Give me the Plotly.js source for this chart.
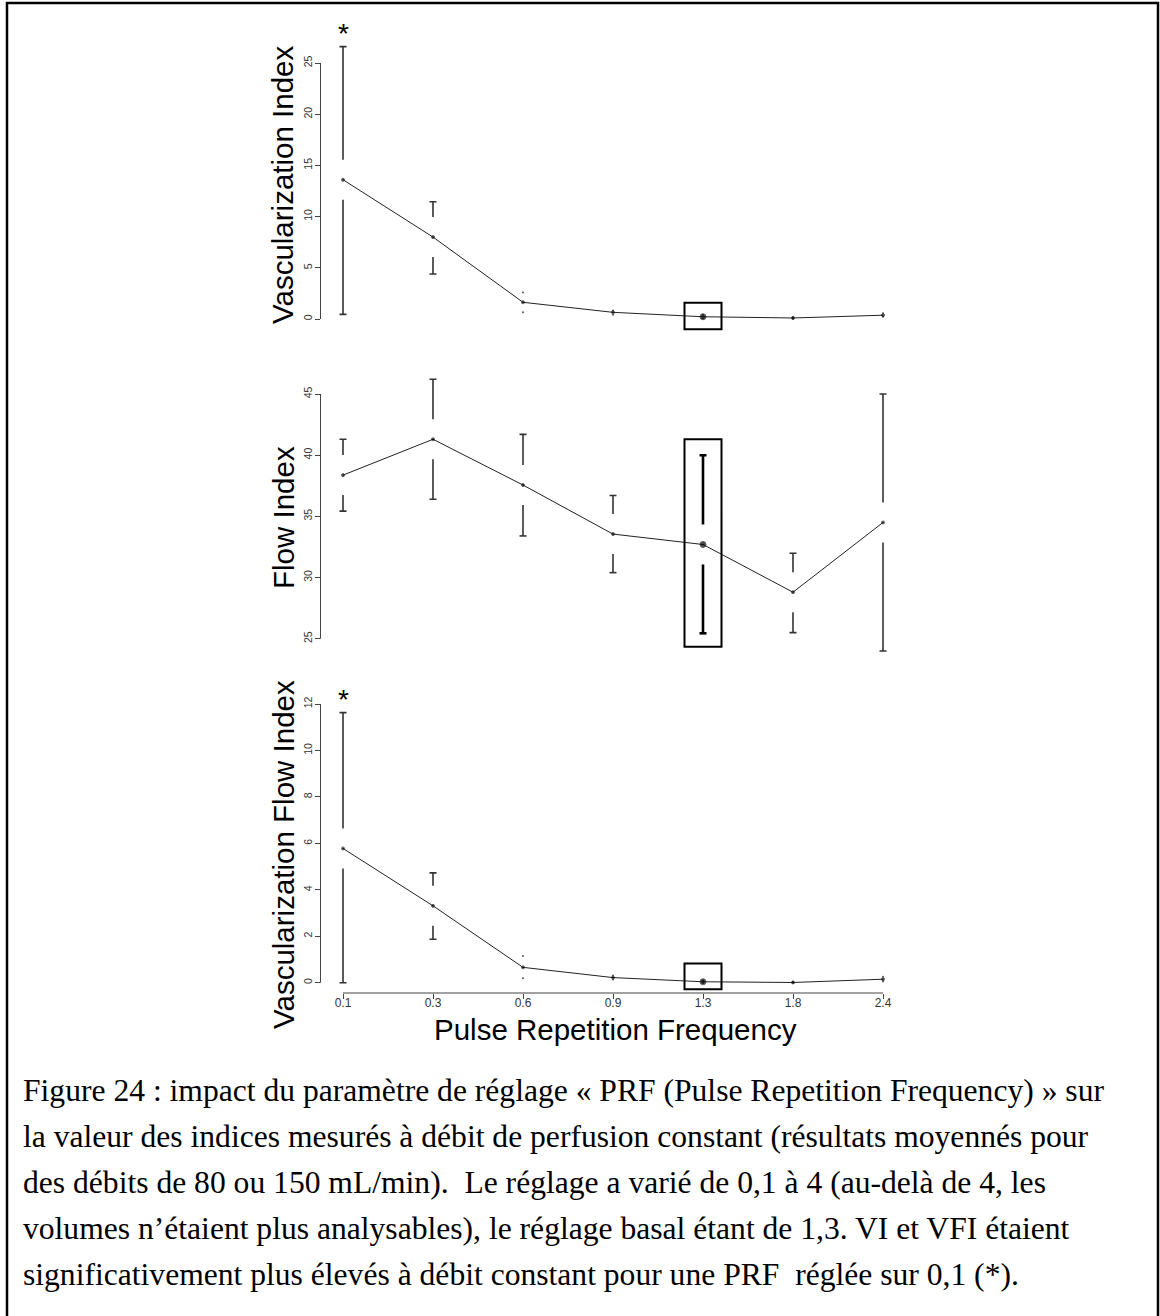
<!DOCTYPE html>
<html>
<head>
<meta charset="utf-8">
<script src="https://cdn.plot.ly/plotly-3.0.1.min.js"></script>
<style>
  html, body { margin: 0; padding: 0; background: #ffffff; }
  #chart { width: 1160px; height: 1316px; }
</style>
</head>
<body>
<div id="chart"></div>
<script>
// ---------------- DATA ----------------
const prfLabels = ['0.1', '0.3', '0.6', '0.9', '1.3', '1.8', '2.4'];
const basalIndex = 4; // PRF 1.3 (basal setting)

// Vascularization Index (VI)
const viMean  = [13.6, 8.0, 1.63, 0.65, 0.22, 0.10, 0.37];
const viUpper = [26.6, 11.45, 2.6, 0.82, 0.40, 0.18, 0.55];
const viLower = [0.45, 4.4, 0.65, 0.42, 0.05, 0.03, 0.22];
const viTicks = [0, 5, 10, 15, 20, 25];

// Flow Index (FI)
const fiMean  = [38.37, 41.3, 37.56, 33.55, 32.7, 28.8, 34.5];
const fiUpper = [41.3, 46.2, 41.7, 36.7, 40.0, 31.98, 45.0];
const fiLower = [35.43, 36.4, 33.4, 30.4, 25.44, 25.5, 24.0];
const fiTicks = [25, 30, 35, 40, 45];

// Vascularization Flow Index (VFI)
const vfiMean  = [5.78, 3.31, 0.66, 0.22, 0.04, 0.01, 0.15];
const vfiUpper = [11.63, 4.73, 1.15, 0.31, 0.10, 0.04, 0.26];
const vfiLower = [0.0, 1.87, 0.19, 0.14, 0.0, 0.0, 0.05];
const vfiTicks = [0, 2, 4, 6, 8, 10, 12];

// Significance flags (*) per PRF setting
const viSignificant  = [true, false, false, false, false, false, false];
const fiSignificant  = [false, false, false, false, false, false, false];
const vfiSignificant = [true, false, false, false, false, false, false];

// Highlight box around the basal setting (value extents)
const basalBoxLow  = [-1.0, 24.35, -0.28];
const basalBoxHigh = [1.59, 41.3, 0.83];

const yTitles = ['Vascularization Index', 'Flow Index', 'Vascularization Flow Index'];
const xTitle = 'Pulse Repetition Frequency';

const captionLines = [
  'Figure 24 : impact du paramètre de réglage « PRF (Pulse Repetition Frequency) » sur',
  'la valeur des indices mesurés à débit de perfusion constant (résultats moyennés pour',
  'des débits de 80 ou 150 mL/min).\u00a0 Le réglage a varié de 0,1 à 4 (au-delà de 4, les',
  'volumes n’étaient plus analysables), le réglage basal étant de 1,3. VI et VFI étaient',
  'significativement plus élevés à débit constant pour une PRF\u00a0 réglée sur 0,1 (*).'
];

// ---------------- LAYOUT GEOMETRY (pixels) ----------------
const W = 1160, H = 1316;
const px = p => p / W;
const py = p => 1 - p / H;
const FONT = 'Liberation Sans, Arial, sans-serif';
const SERIF = 'Liberation Serif, Times New Roman, serif';

// x axis: category index -> pixels
const xLeftPx = 320.5, xRightPx = 905.5;
const xRange = [-0.25, 6.25];
const xUnitPx = (xRightPx - xLeftPx) / (xRange[1] - xRange[0]);

// panels: tick anchor pixels and domain pixels
const panels = [
  { key: 'y',  axis: 'yaxis',  mean: viMean,  up: viUpper,  lo: viLower,  ticks: viTicks,  sig: viSignificant,
    a: [0, 319], b: [25, 63], top: 32, bottom: 334, titleY: 185 },
  { key: 'y2', axis: 'yaxis2', mean: fiMean,  up: fiUpper,  lo: fiLower,  ticks: fiTicks,  sig: fiSignificant,
    a: [25, 638.7], b: [45, 394], top: 378, bottom: 668, titleY: 518 },
  { key: 'y3', axis: 'yaxis3', mean: vfiMean, up: vfiUpper, lo: vfiLower, ticks: vfiTicks, sig: vfiSignificant,
    a: [0, 982.7], b: [12, 704], top: 701, bottom: 993, titleY: 855 }
];

const traces = [];
const shapes = [];
const annotations = [];
const layout = {
  width: W, height: H,
  margin: { l: 0, r: 0, t: 0, b: 0 },
  paper_bgcolor: '#ffffff', plot_bgcolor: 'rgba(0,0,0,0)',
  showlegend: false,
  font: { family: FONT, color: '#000' },
  xaxis: {
    domain: [px(xLeftPx), px(xRightPx)], range: xRange, anchor: 'y3',
    tickmode: 'array', tickvals: prfLabels.map((_, i) => i), ticktext: prfLabels,
    ticks: 'outside', ticklen: 5, tickwidth: 1, tickcolor: '#444',
    ticklabelstandoff: -6,
    tickfont: { family: FONT, size: 12, color: '#333333' },
    showline: false, showgrid: false, zeroline: false, fixedrange: true
  }
};

const GAP_PX = 20;      // gap around mean for CI bars
const CAP_HALF = 3.5 / xUnitPx;
const idx = prfLabels.map((_, i) => i);

panels.forEach((p, k) => {
  const unitPx = (p.a[1] - p.b[1]) / (p.b[0] - p.a[0]); // pixels per unit
  const r0 = p.a[0] - (p.bottom - p.a[1]) / unitPx;
  const r1 = p.a[0] + (p.a[1] - p.top) / unitPx;
  layout[p.axis] = {
    domain: [py(p.bottom), py(p.top)], range: [r0, r1], anchor: 'x',
    tickmode: 'array', tickvals: p.ticks, ticktext: p.ticks.map(String),
    ticks: 'outside', ticklen: 5, tickwidth: 1, tickcolor: '#444', tickangle: -90,
    ticklabelstandoff: -2,
    tickfont: { family: FONT, size: 10.5, color: '#333333' },
    showline: false, showgrid: false, zeroline: false, fixedrange: true
  };
  // y axis line from first to last tick (R style)
  shapes.push({ type: 'line', xref: 'paper', yref: p.key, x0: px(xLeftPx), x1: px(xLeftPx),
    y0: p.ticks[0], y1: p.ticks[p.ticks.length - 1], line: { color: '#444', width: 1 } });

  // CI bars with gap
  const g = GAP_PX / unitPx;
  const segX = [], segY = [], hsegX = [], hsegY = [], dotX = [], dotY = [];
  idx.forEach(i => {
    const isBasal = (i === basalIndex && k === 1);
    const sx = isBasal ? hsegX : segX, sy = isBasal ? hsegY : segY;
    [[p.up[i], 1], [p.lo[i], -1]].forEach(([v, dir]) => {
      const start = p.mean[i] + dir * g;
      if ((v - start) * dir > 0) {
        sx.push(i, i, null); sy.push(start, v, null);
        sx.push(i - CAP_HALF, i + CAP_HALF, null); sy.push(v, v, null);
      } else {
        dotX.push(i); dotY.push(v);
      }
    });
  });
  traces.push({ type: 'scatter', mode: 'lines', x: segX, y: segY, xaxis: 'x', yaxis: p.key,
    line: { color: '#333', width: 1.6 }, hoverinfo: 'skip', connectgaps: false });
  if (hsegX.length) traces.push({ type: 'scatter', mode: 'lines', x: hsegX, y: hsegY, xaxis: 'x', yaxis: p.key,
    line: { color: '#000', width: 2.6 }, hoverinfo: 'skip', connectgaps: false });
  if (dotX.length) traces.push({ type: 'scatter', mode: 'markers', x: dotX, y: dotY, xaxis: 'x', yaxis: p.key,
    marker: { color: '#555', size: 2 }, hoverinfo: 'skip' });

  // mean line + points
  traces.push({ type: 'scatter', mode: 'lines+markers', x: idx, y: p.mean, xaxis: 'x', yaxis: p.key,
    line: { color: '#222', width: 1 },
    marker: { color: '#000', size: idx.map(i => i === basalIndex ? 6 : 3) },
    name: yTitles[k] });

  // basal highlight box
  shapes.push({ type: 'rect', xref: 'x', yref: p.key,
    x0: basalIndex - 18.5 / xUnitPx, x1: basalIndex + 18.5 / xUnitPx,
    y0: basalBoxLow[k], y1: basalBoxHigh[k], line: { color: '#000', width: 2 } });

  // significance stars
  p.sig.forEach((s, i) => {
    if (s) annotations.push({ xref: 'x', yref: p.key, x: i, y: p.up[i], text: '*',
      showarrow: false, yanchor: 'bottom', xanchor: 'center', yshift: -4,
      font: { family: FONT, size: 28, color: '#000' } });
  });

  // y title
  annotations.push({ xref: 'paper', yref: 'paper', x: px(283), y: py(p.titleY), text: yTitles[k],
    textangle: -90, showarrow: false, xanchor: 'center', yanchor: 'middle',
    font: { family: FONT, size: 29.5, color: '#000' } });
});

// x axis line from first to last category (R style)
shapes.push({ type: 'line', xref: 'x', yref: 'paper', x0: 0, x1: prfLabels.length - 1,
  y0: py(993), y1: py(993), line: { color: '#444', width: 1 } });

// x title
annotations.push({ xref: 'paper', yref: 'paper', x: px(615), y: py(1029), text: xTitle,
  showarrow: false, xanchor: 'center', yanchor: 'middle',
  font: { family: FONT, size: 29.5, color: '#000' } });

// caption
captionLines.forEach((t, i) => {
  annotations.push({ xref: 'paper', yref: 'paper', x: px(21), y: py(1090 + 46 * i), text: t,
    showarrow: false, xanchor: 'left', yanchor: 'middle', align: 'left',
    font: { family: SERIF, size: 31.6, color: '#000' } });
});

// outer frame
shapes.push({ type: 'rect', xref: 'paper', yref: 'paper', x0: px(7), x1: px(1158),
  y0: py(1330), y1: py(3), line: { color: '#000', width: 2.5 } });

layout.shapes = shapes;
layout.annotations = annotations;

Plotly.newPlot('chart', traces, layout, { displayModeBar: false, staticPlot: true });
</script>
</body>
</html>
